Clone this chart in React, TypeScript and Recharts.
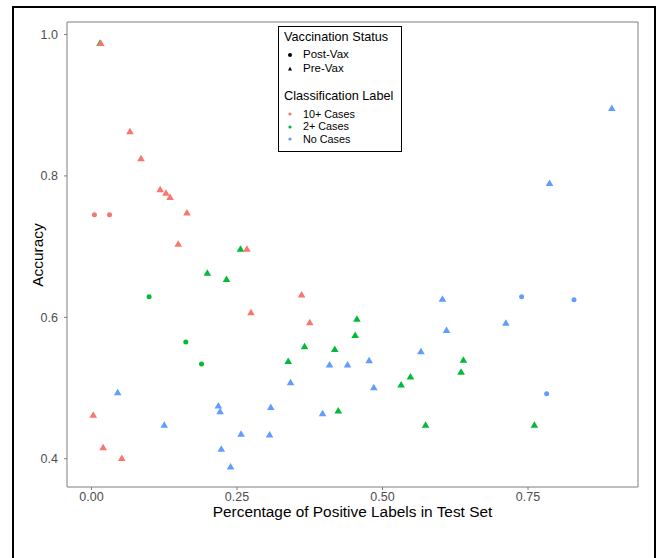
import { ScatterChart, Scatter, XAxis, YAxis, ReferenceArea, Legend } from 'recharts';

// [percentage of positive labels, accuracy]
const tenPlusPre = [
  [0.016, 0.988], [0.066, 0.863], [0.085, 0.825], [0.118, 0.781], [0.128, 0.776],
  [0.135, 0.770], [0.164, 0.748], [0.149, 0.704], [0.267, 0.697], [0.361, 0.632],
  [0.274, 0.607], [0.375, 0.593], [0.003, 0.462], [0.020, 0.416], [0.052, 0.401],
];
const tenPlusPost = [[0.005, 0.745], [0.031, 0.745]];

const twoPlusPre = [
  [0.0145, 0.988], [0.256, 0.697], [0.199, 0.663], [0.232, 0.654], [0.366, 0.559],
  [0.338, 0.538], [0.456, 0.598], [0.453, 0.575], [0.418, 0.555], [0.639, 0.540],
  [0.635, 0.523], [0.548, 0.516], [0.532, 0.505], [0.424, 0.468], [0.574, 0.448],
  [0.761, 0.448],
];
const twoPlusPost = [[0.099, 0.629], [0.162, 0.565], [0.189, 0.534]];

const noCasesPre = [
  [0.342, 0.508], [0.045, 0.494], [0.218, 0.475], [0.221, 0.467], [0.308, 0.473],
  [0.125, 0.448], [0.257, 0.435], [0.306, 0.434], [0.223, 0.414], [0.239, 0.389],
  [0.409, 0.533], [0.440, 0.533], [0.477, 0.539], [0.566, 0.552], [0.603, 0.626],
  [0.610, 0.582], [0.712, 0.592], [0.485, 0.501], [0.397, 0.464], [0.894, 0.896],
  [0.787, 0.790],
];
const noCasesPost = [[0.739, 0.629], [0.829, 0.625], [0.782, 0.492]];

const xTicks = [0, 0.25, 0.5, 0.75];
const yTicks = [0.4, 0.6, 0.8, 1.0];
const xDomain = [-0.0421, 0.939];
const yDomain = [0.36, 1.0177];

const RED = '#F8766D';
const GREEN = '#00BA38';
const BLUE = '#619CFF';
const FONT = '"Liberation Sans", Arial, sans-serif';

const toPoints = (arr: number[][]) => arr.map(([x, y]) => ({ x, y }));

const triangle = (color: string) => (props: any) => {
  const { cx, cy } = props;
  return (
    <path
      d={`M${cx},${cy - 3.6} L${cx + 3.8},${cy + 2.9} L${cx - 3.8},${cy + 2.9} Z`}
      fill={color}
    />
  );
};

const circle = (color: string) => (props: any) => {
  const { cx, cy } = props;
  return <circle cx={cx} cy={cy} r={2.5} fill={color} />;
};

const row = (top: number, left: number, size: number, text: string) => (
  <div style={{ position: 'absolute', top: top - 5.5, left, fontSize: size, lineHeight: '11px', height: 11, whiteSpace: 'nowrap' }}>
    {text}
  </div>
);

const sym = (top: number, child: any) => (
  <svg style={{ position: 'absolute', left: 7, top: top - 4 }} width={8} height={8}>
    {child}
  </svg>
);

const LegendBox = () => (
  <div
    style={{
      position: 'relative',
      width: 124,
      height: 126,
      boxSizing: 'border-box',
      border: '1.5px solid #000',
      background: '#fff',
      fontFamily: FONT,
      color: '#000',
    }}
  >
    {row(10, 5, 12.7, 'Vaccination Status')}
    {sym(27.5, <circle cx={4} cy={4} r={2} fill="#000" />)}
    {row(27.5, 24, 11.5, 'Post-Vax')}
    {sym(41.5, <path d="M4,1.8 L6,5.5 L2,5.5 Z" fill="#000" />)}
    {row(41.5, 24, 11.5, 'Pre-Vax')}
    {row(69, 5, 12.7, 'Classification Label')}
    {sym(87, <circle cx={4} cy={4} r={1.6} fill={RED} />)}
    {row(87, 24, 10.8, '10+ Cases')}
    {sym(99.5, <circle cx={4} cy={4} r={1.6} fill={GREEN} />)}
    {row(99.5, 24, 10.8, '2+ Cases')}
    {sym(112, <circle cx={4} cy={4} r={1.6} fill={BLUE} />)}
    {row(112, 24, 10.8, 'No Cases')}
  </div>
);

export default function App() {
  return (
    <div style={{ position: 'absolute', left: 0, top: 0, width: 656, height: 558, overflow: 'hidden', background: '#fff' }}>
      <div
        style={{
          position: 'absolute',
          left: 12,
          top: 6,
          width: 644,
          height: 600,
          boxSizing: 'border-box',
          border: '2.5px solid #000',
        }}
      />
      <div style={{ position: 'absolute', left: 0, top: 0 }}>
        <ScatterChart width={656} height={558} margin={{ top: 22, right: 18, bottom: 41, left: 27 }}>
          <XAxis
            type="number"
            dataKey="x"
            domain={xDomain}
            allowDataOverflow
            ticks={xTicks}
            tickFormatter={(v: number) => v.toFixed(2)}
            axisLine={false}
            tickLine={{ stroke: '#7f7f7f' }}
            tickSize={3}
            tickMargin={2}
            height={30}
            tick={{ fill: '#4d4d4d', fontSize: 12.5, fontFamily: FONT }}
          />
          <YAxis
            type="number"
            dataKey="y"
            domain={yDomain}
            allowDataOverflow
            ticks={yTicks}
            tickFormatter={(v: number) => v.toFixed(1)}
            axisLine={false}
            tickLine={{ stroke: '#7f7f7f' }}
            tickSize={3}
            tickMargin={6}
            width={40}
            tick={{ fill: '#4d4d4d', fontSize: 12.5, fontFamily: FONT }}
          />
          <ReferenceArea
            x1={xDomain[0]}
            x2={xDomain[1]}
            y1={yDomain[0]}
            y2={yDomain[1]}
            fill="none"
            stroke="#7f7f7f"
            strokeWidth={1}
          />
          <Scatter name="2+ Pre" data={toPoints(twoPlusPre)} shape={triangle(GREEN)} isAnimationActive={false} />
          <Scatter name="2+ Post" data={toPoints(twoPlusPost)} shape={circle(GREEN)} isAnimationActive={false} />
          <Scatter name="No Pre" data={toPoints(noCasesPre)} shape={triangle(BLUE)} isAnimationActive={false} />
          <Scatter name="No Post" data={toPoints(noCasesPost)} shape={circle(BLUE)} isAnimationActive={false} />
          <Scatter name="10+ Pre" data={toPoints(tenPlusPre)} shape={triangle(RED)} isAnimationActive={false} />
          <Scatter name="10+ Post" data={toPoints(tenPlusPost)} shape={circle(RED)} isAnimationActive={false} />
          <Legend
            layout="horizontal"
            verticalAlign="middle"
            align="center"
            content={() => <LegendBox />}
            wrapperStyle={{ left: 278, top: 26, width: 124, height: 126 }}
          />
        </ScatterChart>
      </div>
      <div
        style={{
          position: 'absolute',
          left: 67,
          width: 571,
          top: 503,
          textAlign: 'center',
          fontFamily: FONT,
          fontSize: 15.4,
          lineHeight: '18px',
          color: '#000',
        }}
      >
        Percentage of Positive Labels in Test Set
      </div>
      <div
        style={{
          position: 'absolute',
          left: 37.5,
          top: 254.5,
          transform: 'translate(-50%, -50%) rotate(-90deg)',
          fontFamily: FONT,
          fontSize: 15.4,
          lineHeight: '18px',
          color: '#000',
          whiteSpace: 'nowrap',
        }}
      >
        Accuracy
      </div>
    </div>
  );
}
